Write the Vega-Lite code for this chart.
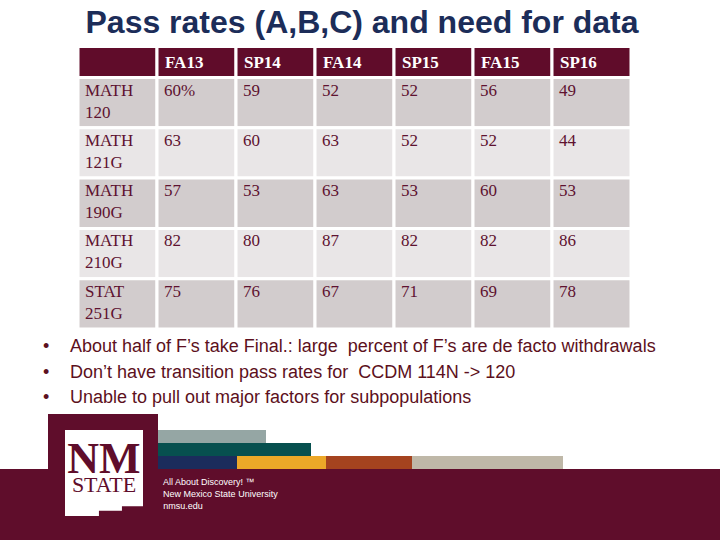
{
  "$schema": "https://vega.github.io/schema/vega-lite/v6.json",
  "width": 720,
  "height": 540,
  "autosize": "none",
  "padding": 0,
  "background": "#ffffff",
  "config": {"view": {"stroke": null}, "axis": {"disable": true}, "legend": {"disable": true}},
  "title": {"text": "Pass rates (A,B,C) and need for data", "font": "Liberation Sans", "fontSize": 32, "fontWeight": "bold", "color": "#1c2d59", "anchor": "middle", "frame": "group", "offset": 0, "baseline": "alphabetic", "dy": 65, "dx": 2},
  "datasets": {
    "header": [
      {"term": "Course", "label": "", "row": "Header"},
      {"term": "FA13", "label": "FA13", "row": "Header"},
      {"term": "SP14", "label": "SP14", "row": "Header"},
      {"term": "FA14", "label": "FA14", "row": "Header"},
      {"term": "SP15", "label": "SP15", "row": "Header"},
      {"term": "FA15", "label": "FA15", "row": "Header"},
      {"term": "SP16", "label": "SP16", "row": "Header"}
    ],
    "rates": [
      {"Course": "MATH 120", "FA13": "60%", "SP14": "59", "FA14": "52", "SP15": "52", "FA15": "56", "SP16": "49"},
      {"Course": "MATH 121G", "FA13": "63", "SP14": "60", "FA14": "63", "SP15": "52", "FA15": "52", "SP16": "44"},
      {"Course": "MATH 190G", "FA13": "57", "SP14": "53", "FA14": "63", "SP15": "53", "FA15": "60", "SP16": "53"},
      {"Course": "MATH 210G", "FA13": "82", "SP14": "80", "FA14": "87", "SP15": "82", "FA15": "82", "SP16": "86"},
      {"Course": "STAT 251G", "FA13": "75", "SP14": "76", "FA14": "67", "SP15": "71", "FA15": "69", "SP16": "78"}
    ],
    "notes": [
      {"marker": "•", "note": "About half of F’s take Final.: large \u00a0percent of F’s are de facto withdrawals"},
      {"marker": "•", "note": "Don’t have transition pass rates for \u00a0CCDM 114N -> 120"},
      {"marker": "•", "note": "Unable to pull out major factors for subpopulations"}
    ],
    "stripes": [
      {"band": "1", "shade": "gray", "length": 108, "seq": 1},
      {"band": "2", "shade": "teal", "length": 153, "seq": 1},
      {"band": "3", "shade": "navy", "length": 79, "seq": 1},
      {"band": "3", "shade": "gold", "length": 89, "seq": 2},
      {"band": "3", "shade": "rust", "length": 86, "seq": 3},
      {"band": "3", "shade": "sand", "length": 151, "seq": 4}
    ],
    "banner": [{"part": "Footer"}],
    "logo": [{"part": "Logo"}],
    "tagline": [
      {"line": "All About Discovery! ™"},
      {"line": "New Mexico State University"},
      {"line": "nmsu.edu"}
    ]
  },
  "resolve": {"scale": {"x": "independent", "y": "independent", "color": "independent"}},
  "layer": [
    {
      "data": {"name": "header"},
      "mark": {"type": "rect", "fill": "#600c2a", "stroke": "#ffffff", "strokeWidth": 3},
      "encoding": {
        "x": {"field": "term", "type": "nominal", "scale": {"type": "band", "domain": ["Course", "FA13", "SP14", "FA14", "SP15", "FA15", "SP16"], "range": [78, 631], "paddingInner": 0, "paddingOuter": 0}},
        "y": {"field": "row", "type": "nominal", "scale": {"type": "band", "domain": ["Header"], "range": [46.5, 77.5], "paddingInner": 0, "paddingOuter": 0}}
      }
    },
    {
      "data": {"name": "header"},
      "mark": {"type": "text", "font": "Liberation Serif", "fontSize": 17, "fontWeight": "bold", "color": "#ffffff", "align": "left", "baseline": "middle", "dx": 8, "dy": 1},
      "encoding": {
        "x": {"field": "term", "type": "nominal", "bandPosition": 0, "scale": {"type": "band", "domain": ["Course", "FA13", "SP14", "FA14", "SP15", "FA15", "SP16"], "range": [78, 631], "paddingInner": 0, "paddingOuter": 0}},
        "y": {"field": "row", "type": "nominal", "scale": {"type": "band", "domain": ["Header"], "range": [46.5, 77.5], "paddingInner": 0, "paddingOuter": 0}},
        "text": {"field": "label", "type": "nominal"}
      }
    },
    {
      "data": {"name": "rates"},
      "transform": [{"fold": ["Course", "FA13", "SP14", "FA14", "SP15", "FA15", "SP16"], "as": ["term", "value"]}],
      "mark": {"type": "rect", "stroke": "#ffffff", "strokeWidth": 3},
      "encoding": {
        "x": {"field": "term", "type": "nominal", "scale": {"type": "band", "domain": ["Course", "FA13", "SP14", "FA14", "SP15", "FA15", "SP16"], "range": [78, 631], "paddingInner": 0, "paddingOuter": 0}},
        "y": {"field": "Course", "type": "nominal", "scale": {"type": "band", "domain": ["MATH 120", "MATH 121G", "MATH 190G", "MATH 210G", "STAT 251G"], "range": [77.5, 329], "paddingInner": 0, "paddingOuter": 0}},
        "fill": {"field": "Course", "type": "nominal", "scale": {"domain": ["MATH 120", "MATH 121G", "MATH 190G", "MATH 210G", "STAT 251G"], "range": ["#d2cccd", "#e9e6e7", "#d2cccd", "#e9e6e7", "#d2cccd"]}}
      }
    },
    {
      "data": {"name": "rates"},
      "transform": [{"fold": ["Course", "FA13", "SP14", "FA14", "SP15", "FA15", "SP16"], "as": ["term", "value"]}],
      "mark": {"type": "text", "font": "Liberation Serif", "fontSize": 17, "color": "#5e1230", "align": "left", "baseline": "top", "lineBreak": " ", "lineHeight": 22, "dx": 7, "dy": 5},
      "encoding": {
        "x": {"field": "term", "type": "nominal", "bandPosition": 0, "scale": {"type": "band", "domain": ["Course", "FA13", "SP14", "FA14", "SP15", "FA15", "SP16"], "range": [78, 631], "paddingInner": 0, "paddingOuter": 0}},
        "y": {"field": "Course", "type": "nominal", "bandPosition": 0, "scale": {"type": "band", "domain": ["MATH 120", "MATH 121G", "MATH 190G", "MATH 210G", "STAT 251G"], "range": [77.5, 329], "paddingInner": 0, "paddingOuter": 0}},
        "text": {"field": "value", "type": "nominal"}
      }
    },
    {
      "data": {"name": "notes"},
      "transform": [{"fold": ["marker", "note"], "as": ["part", "words"]}],
      "mark": {"type": "text", "font": "Liberation Sans", "fontSize": 18, "color": "#5c1020", "align": "left", "baseline": "middle"},
      "encoding": {
        "x": {"field": "part", "type": "nominal", "scale": {"type": "point", "domain": ["marker", "note"], "range": [43, 70], "padding": 0}},
        "y": {"field": "note", "type": "nominal", "scale": {"type": "band", "domain": ["About half of F’s take Final.: large \u00a0percent of F’s are de facto withdrawals", "Don’t have transition pass rates for \u00a0CCDM 114N -> 120", "Unable to pull out major factors for subpopulations"], "range": [334, 411], "paddingInner": 0, "paddingOuter": 0}},
        "text": {"field": "words", "type": "nominal"}
      }
    },
    {
      "data": {"name": "banner"},
      "mark": {"type": "rect", "color": "#5f0d2b"},
      "encoding": {
        "x": {"field": "part", "type": "nominal", "scale": {"type": "band", "domain": ["Footer"], "range": [0, 720], "paddingInner": 0, "paddingOuter": 0}},
        "y": {"field": "part", "type": "nominal", "scale": {"type": "band", "domain": ["Footer"], "range": [469, 540], "paddingInner": 0, "paddingOuter": 0}}
      }
    },
    {
      "data": {"name": "stripes"},
      "mark": {"type": "bar", "cornerRadius": 0},
      "encoding": {
        "x": {"field": "length", "type": "quantitative", "stack": "zero", "scale": {"domain": [0, 405], "range": [158, 563], "nice": false, "zero": true}},
        "y": {"field": "band", "type": "nominal", "scale": {"type": "band", "domain": ["1", "2", "3"], "range": [430, 469], "paddingInner": 0, "paddingOuter": 0}},
        "color": {"field": "shade", "type": "nominal", "scale": {"domain": ["gray", "teal", "navy", "gold", "rust", "sand"], "range": ["#95a6a4", "#07504f", "#1b2c5c", "#eca828", "#a5431f", "#bfb8a8"]}},
        "order": {"field": "seq", "type": "quantitative"}
      }
    },
    {
      "data": {"name": "logo"},
      "mark": {"type": "rect", "color": "#5f0d2b"},
      "encoding": {
        "x": {"field": "part", "type": "nominal", "scale": {"type": "band", "domain": ["Logo"], "range": [48, 158], "paddingInner": 0, "paddingOuter": 0}},
        "y": {"field": "part", "type": "nominal", "scale": {"type": "band", "domain": ["Logo"], "range": [414, 540], "paddingInner": 0, "paddingOuter": 0}}
      }
    },
    {
      "data": {"name": "logo"},
      "mark": {"type": "point", "shape": "M-1,-1.1H1V0.85H0.46V0.97H-0.13V1.1H-1Z", "size": 6084, "filled": true, "color": "#ffffff", "opacity": 1, "strokeWidth": 0},
      "encoding": {
        "x": {"field": "part", "type": "nominal", "scale": {"type": "band", "domain": ["Logo"], "range": [65, 143], "paddingInner": 0, "paddingOuter": 0}},
        "y": {"field": "part", "type": "nominal", "scale": {"type": "band", "domain": ["Logo"], "range": [430, 516], "paddingInner": 0, "paddingOuter": 0}}
      }
    },
    {
      "data": {"name": "logo"},
      "mark": {"type": "text", "text": "NM", "font": "Liberation Serif", "fontSize": 44, "fontWeight": "bold", "color": "#5f0d2b", "align": "center", "baseline": "alphabetic"},
      "encoding": {
        "x": {"field": "part", "type": "nominal", "scale": {"type": "band", "domain": ["Logo"], "range": [65, 143], "paddingInner": 0, "paddingOuter": 0}},
        "y": {"field": "part", "type": "nominal", "scale": {"type": "band", "domain": ["Logo"], "range": [430, 516], "paddingInner": 0, "paddingOuter": 0}}
      }
    },
    {
      "data": {"name": "logo"},
      "mark": {"type": "text", "text": "STATE", "font": "Liberation Serif", "fontSize": 22, "color": "#5f0d2b", "align": "center", "baseline": "alphabetic", "dy": 19, "letterSpacing": 0.6},
      "encoding": {
        "x": {"field": "part", "type": "nominal", "scale": {"type": "band", "domain": ["Logo"], "range": [65, 143], "paddingInner": 0, "paddingOuter": 0}},
        "y": {"field": "part", "type": "nominal", "scale": {"type": "band", "domain": ["Logo"], "range": [430, 516], "paddingInner": 0, "paddingOuter": 0}}
      }
    },
    {
      "data": {"name": "tagline"},
      "mark": {"type": "text", "font": "Liberation Sans", "fontSize": 9, "color": "#ffffff", "align": "left", "baseline": "middle"},
      "encoding": {
        "x": {"field": "line", "type": "nominal", "bandPosition": 0, "scale": {"type": "band", "domain": ["All About Discovery! ™", "New Mexico State University", "nmsu.edu"], "range": [163, 163.3], "paddingInner": 0, "paddingOuter": 0}},
        "y": {"field": "line", "type": "nominal", "scale": {"type": "band", "domain": ["All About Discovery! ™", "New Mexico State University", "nmsu.edu"], "range": [476, 512], "paddingInner": 0, "paddingOuter": 0}},
        "text": {"field": "line", "type": "nominal"}
      }
    }
  ]
}
